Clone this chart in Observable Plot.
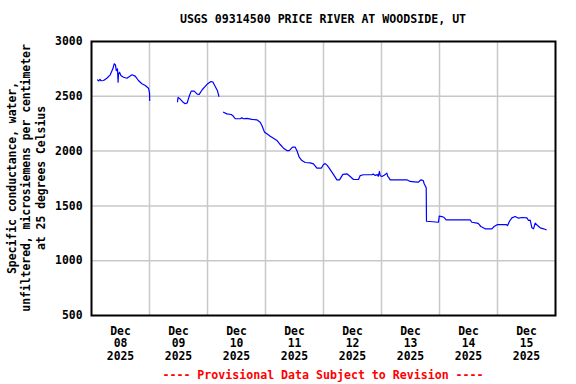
<!DOCTYPE html>
<html>
<head>
<meta charset="utf-8">
<script src="https://cdn.jsdelivr.net/npm/d3@7"></script>
<script src="https://cdn.jsdelivr.net/npm/@observablehq/plot@0.6"></script>
<style>
  html, body { margin: 0; padding: 0; background: #ffffff; }
  #wrap { position: relative; width: 576px; height: 384px; overflow: hidden; font-family: "DejaVu Sans Mono", monospace; font-weight: bold; }
  #title { position: absolute; left: 91px; width: 464px; top: 0; height: 30px; line-height: 30px; padding-top: 4px; box-sizing: border-box; text-align: center; font-size: 11.6px; color: #000; white-space: pre; }
  #chart { position: absolute; left: 0; top: 30px; }
  #caption { position: absolute; left: 91px; width: 464px; top: 362px; height: 22px; line-height: 26px; text-align: center; font-size: 11.6px; color: #ff0000; white-space: pre; }
</style>
</head>
<body>
<div id="wrap">
  <div id="title">USGS 09314500 PRICE RIVER AT WOODSIDE, UT</div>
  <div id="chart"></div>
  <div id="caption">---- Provisional Data Subject to Revision ----</div>
</div>
<script>
// ---- Data ----
const titleText = "USGS 09314500 PRICE RIVER AT WOODSIDE, UT";
const yLabelLines = ["Specific conductance, water,", "unfiltered, microsiemens per centimeter", "at 25 degrees Celsius"];
const yTicks = [500, 1000, 1500, 2000, 2500, 3000];
const xTickDates = ["2025-12-08T12:00Z","2025-12-09T12:00Z","2025-12-10T12:00Z","2025-12-11T12:00Z","2025-12-12T12:00Z","2025-12-13T12:00Z","2025-12-14T12:00Z","2025-12-15T12:00Z"];
const xGridDates = ["2025-12-09T00:00Z","2025-12-10T00:00Z","2025-12-11T00:00Z","2025-12-12T00:00Z","2025-12-13T00:00Z","2025-12-14T00:00Z","2025-12-15T00:00Z"];
const xDomain = ["2025-12-08T00:00Z", "2025-12-16T00:00Z"];

const times = [
  "2025-12-08T02:30Z","2025-12-08T03:00Z","2025-12-08T03:30Z","2025-12-08T04:00Z","2025-12-08T05:00Z","2025-12-08T06:20Z","2025-12-08T07:45Z","2025-12-08T08:50Z","2025-12-08T09:25Z","2025-12-08T09:55Z","2025-12-08T10:15Z","2025-12-08T10:45Z","2025-12-08T11:00Z","2025-12-08T11:10Z","2025-12-08T11:35Z","2025-12-08T12:10Z","2025-12-08T13:15Z","2025-12-08T14:40Z","2025-12-08T16:45Z","2025-12-08T18:05Z","2025-12-08T19:25Z","2025-12-08T20:50Z","2025-12-08T22:15Z","2025-12-08T23:35Z","2025-12-09T00:00Z","2025-12-09T00:05Z",
  "2025-12-09T06:00Z",
  "2025-12-09T11:35Z","2025-12-09T11:50Z","2025-12-09T12:42Z","2025-12-09T13:57Z","2025-12-09T14:46Z","2025-12-09T15:36Z","2025-12-09T16:26Z","2025-12-09T17:15Z","2025-12-09T18:30Z","2025-12-09T19:44Z","2025-12-09T20:34Z","2025-12-09T21:48Z","2025-12-09T23:03Z","2025-12-10T00:05Z","2025-12-10T01:24Z","2025-12-10T02:14Z","2025-12-10T03:11Z","2025-12-10T04:08Z","2025-12-10T04:43Z",
  "2025-12-10T05:30Z",
  "2025-12-10T06:37Z","2025-12-10T08:02Z","2025-12-10T09:49Z","2025-12-10T10:38Z","2025-12-10T11:28Z","2025-12-10T13:32Z","2025-12-10T14:14Z","2025-12-10T14:46Z","2025-12-10T16:18Z","2025-12-10T18:22Z","2025-12-10T20:26Z","2025-12-10T21:48Z","2025-12-10T22:31Z","2025-12-10T23:35Z",
  "2025-12-11T00:35Z","2025-12-11T01:57Z","2025-12-11T03:18Z","2025-12-11T04:43Z","2025-12-11T06:05Z","2025-12-11T07:27Z","2025-12-11T08:51Z","2025-12-11T09:49Z","2025-12-11T11:10Z","2025-12-11T12:17Z","2025-12-11T12:59Z","2025-12-11T13:57Z","2025-12-11T15:04Z","2025-12-11T16:26Z","2025-12-11T18:30Z","2025-12-11T19:52Z","2025-12-11T21:16Z","2025-12-11T23:03Z",
  "2025-12-12T00:00Z","2025-12-12T00:42Z","2025-12-12T01:32Z","2025-12-12T02:04Z","2025-12-12T03:29Z","2025-12-12T04:50Z","2025-12-12T05:32Z","2025-12-12T06:37Z","2025-12-12T08:02Z","2025-12-12T09:41Z","2025-12-12T11:03Z","2025-12-12T12:25Z","2025-12-12T14:29Z","2025-12-12T15:11Z","2025-12-12T16:33Z","2025-12-12T20:02Z","2025-12-12T20:34Z","2025-12-12T21:24Z","2025-12-12T22:13Z","2025-12-12T22:38Z","2025-12-12T23:10Z","2025-12-12T23:28Z",
  "2025-12-13T00:10Z","2025-12-13T01:07Z","2025-12-13T02:14Z","2025-12-13T02:34Z","2025-12-13T02:54Z","2025-12-13T03:36Z","2025-12-13T10:30Z","2025-12-13T11:52Z","2025-12-13T13:30Z","2025-12-13T15:18Z","2025-12-13T16:00Z","2025-12-13T16:25Z","2025-12-13T17:15Z","2025-12-13T17:40Z","2025-12-13T18:30Z","2025-12-13T18:37Z","2025-12-13T23:35Z","2025-12-13T23:53Z",
  "2025-12-14T01:00Z","2025-12-14T01:57Z","2025-12-14T02:46Z","2025-12-14T12:42Z","2025-12-14T13:24Z","2025-12-14T15:28Z","2025-12-14T16:00Z","2025-12-14T17:07Z","2025-12-14T18:54Z","2025-12-14T21:40Z","2025-12-14T22:37Z",
  "2025-12-15T00:00Z","2025-12-15T03:36Z","2025-12-15T04:08Z","2025-12-15T04:58Z","2025-12-15T05:57Z","2025-12-15T07:20Z","2025-12-15T08:42Z","2025-12-15T10:06Z","2025-12-15T12:10Z","2025-12-15T12:50Z","2025-12-15T13:32Z","2025-12-15T14:14Z","2025-12-15T14:54Z","2025-12-15T15:36Z","2025-12-15T16:33Z","2025-12-15T17:40Z","2025-12-15T19:02Z","2025-12-15T20:08Z"
];
const values = [
  2650,2640,2655,2642,2644,2665,2696,2751,2797,2787,2735,2751,2629,2700,2720,2690,2674,2665,2696,2684,2644,2614,2598,2574,2532,2462,
  null,
  2450,2490,2475,2445,2432,2440,2500,2547,2547,2520,2518,2560,2590,2615,2635,2630,2590,2550,2500,
  null,
  2355,2340,2334,2320,2295,2295,2305,2295,2298,2290,2285,2264,2234,2173,
  2158,2136,2118,2097,2060,2027,2005,2005,2036,2036,2005,1944,1914,1896,1893,1884,1844,1844,
  1878,1886,1870,1853,1808,1762,1738,1738,1787,1793,1768,1741,1741,1777,1784,1784,1790,1778,1785,1770,1814,1775,
  1768,1780,1799,1770,1762,1738,1738,1723,1720,1717,1732,1738,1732,1702,1665,1360,1351,1406,
  1403,1394,1373,1373,1351,1343,1340,1312,1291,1291,1312,
  1330,1330,1320,1360,1391,1403,1388,1394,1391,1367,1370,1300,1291,1343,1321,1300,1291,1282
];

const data = times.map((t, i) => ({date: new Date(t), value: values[i]}));
const fmt = d3.utcFormat("%b\n%d\n%Y");

const chart = Plot.plot({
  width: 576,
  height: 332,
  marginTop: 11,
  marginBottom: 47,
  marginLeft: 91,
  marginRight: 21,
  style: {fontFamily: "'DejaVu Sans Mono', monospace", fontWeight: "bold", fontSize: "11.4px", color: "#000", background: "#fff", overflow: "visible"},
  x: {type: "utc", domain: xDomain.map(d => new Date(d))},
  y: {domain: [yTicks[0], yTicks[yTicks.length - 1]]},
  marks: [
    Plot.gridX(xGridDates.map(d => new Date(d)), {stroke: "#c8c8c8", strokeOpacity: 1, strokeWidth: 1.5}),
    Plot.gridY(yTicks.slice(1, -1), {stroke: "#c8c8c8", strokeOpacity: 1, strokeWidth: 1.5}),
    Plot.line(data, {x: "date", y: "value", stroke: "#0000ff", strokeWidth: 1.2}),
    Plot.frame({stroke: "#000", strokeWidth: 2}),
    Plot.axisX(xTickDates.map(d => new Date(d)), {tickSize: 0, tickPadding: 10, tickFormat: fmt, lineHeight: 1.12, label: null, fill: "#000"}),
    Plot.axisY(yTicks, {tickSize: 0, tickPadding: 9, tickFormat: d => String(d), label: null, fill: "#000"})
  ]
});
document.getElementById("chart").appendChild(chart);

// multi-line rotated y-axis title
const svg = d3.select(chart);
const lab = svg.append("text")
  .attr("transform", "translate(12,148) rotate(-90)")
  .attr("text-anchor", "middle")
  .attr("font-family", "'DejaVu Sans Mono', monospace")
  .attr("font-weight", "bold")
  .attr("font-size", "11.4px")
  .attr("fill", "#000");
yLabelLines.forEach((s, i) => {
  lab.append("tspan").attr("x", 0).attr("y", i * 14.3).attr("dominant-baseline", "central").text(s);
});
</script>
</body>
</html>
